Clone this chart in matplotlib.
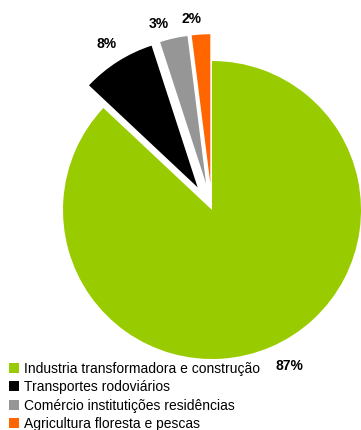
import matplotlib.pyplot as plt
import numpy as np

plt.rcParams['font.family'] = ['Liberation Sans', 'DejaVu Sans']

# Share of emissions by sector
sectors = ["Industria transformadora e construção", "Transportes rodoviários",
           "Comércio institutições residências", "Agricultura floresta e pescas"]
shares = [87, 8, 3, 2]
colors = ["#99CC00", "#000000", "#969696", "#FF6600"]
explode = [0, 0.18, 0.18, 0.18]

W, H = 361, 430
cx, cy, R = 212, 210, 149   # pie centre and radius in pixels

fig = plt.figure(figsize=(W / 100, H / 100), dpi=100)
ax = fig.add_axes([0, 0, 1, 1])

wedges, _ = ax.pie(shares, colors=colors, explode=explode, startangle=90,
                   counterclock=False, radius=1, center=(0, 0),
                   wedgeprops=dict(linewidth=0))

ax.set_xlim(-cx / R, (W - cx) / R)
ax.set_ylim((cy - H) / R, cy / R)
ax.set_aspect('equal')
ax.axis('off')

# percentage labels placed outside each wedge
label_dist = [1.17, 1.14, 1.12, 1.11]
label_shift = [3, 0, 4, 3]   # degrees
for w, val, d, s in zip(wedges, shares, label_dist, label_shift):
    mid = np.deg2rad((w.theta1 + w.theta2) / 2 + s)
    ox, oy = w.center
    ax.text(ox + d * np.cos(mid), oy + d * np.sin(mid), f"{val}%",
            ha='center', va='center', fontsize=10, fontweight='bold')

leg = fig.legend(wedges, sectors, loc='lower left', bbox_to_anchor=(9 / W, -1 / H),
                 frameon=False, fontsize=10, handlelength=0.7, handleheight=0.7,
                 handletextpad=0.35, labelspacing=0.32, borderaxespad=0,
                 borderpad=0)

fig.savefig("out.png", dpi=100)
